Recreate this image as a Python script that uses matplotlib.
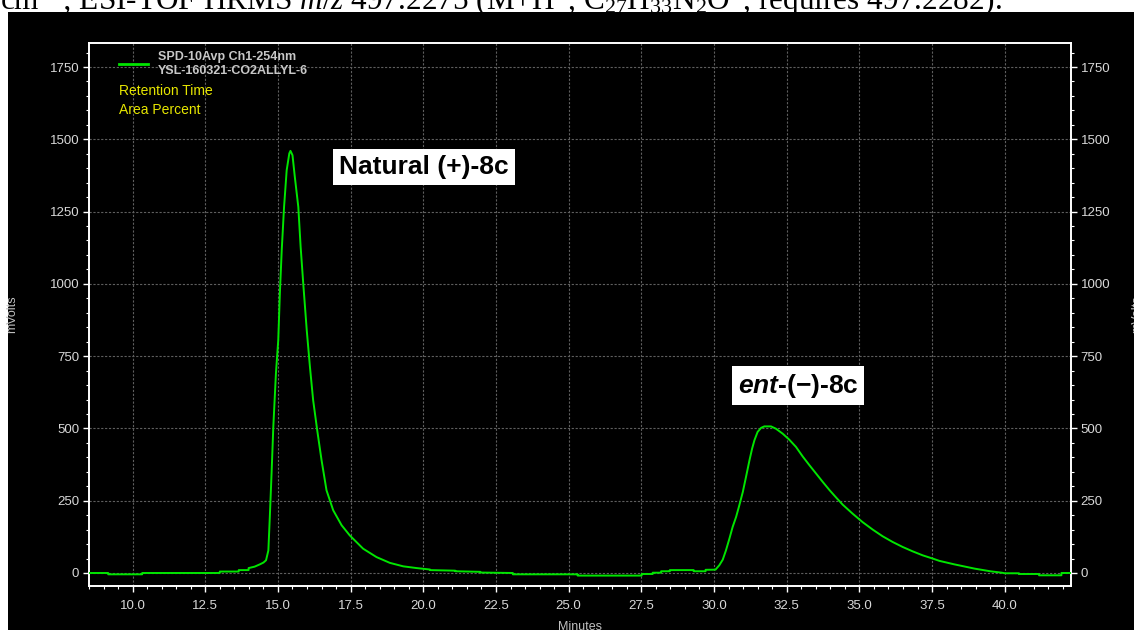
import matplotlib
matplotlib.use("Agg")
import matplotlib.pyplot as plt
from matplotlib.patches import Rectangle
from matplotlib.ticker import MultipleLocator, FormatStrFormatter

# ---- data ----
time_min = [8.5, 9.16, 9.16, 10.33, 10.33, 13.0, 13.0, 13.65, 13.65, 13.99, 13.99, 14.2,
            14.38, 14.50, 14.59, 14.67, 14.72, 14.78, 14.84, 14.93, 15.01, 15.07, 15.13,
            15.21, 15.30, 15.39, 15.43, 15.50, 15.58, 15.70, 15.78, 15.87, 15.99, 16.10,
            16.21, 16.35, 16.50, 16.67, 16.90, 17.19, 17.47, 17.93, 18.39, 18.85, 19.31,
            19.77, 20.23, 20.23, 21.1, 21.1, 21.96, 21.96, 23.08, 23.08, 25.31, 25.31,
            27.51, 27.51, 27.89, 27.89, 28.18, 28.18, 28.48, 28.48, 29.3, 29.3, 29.71,
            29.71, 30.05, 30.18, 30.30, 30.41, 30.53, 30.64, 30.76, 30.87, 30.99, 31.10,
            31.22, 31.31, 31.39, 31.50, 31.62, 31.73, 31.96, 32.13, 32.36, 32.59, 32.82,
            33.05, 33.28, 33.51, 33.74, 33.97, 34.20, 34.43, 34.77, 35.11, 35.46, 35.80,
            36.15, 36.49, 36.83, 37.18, 37.52, 37.75, 38.26, 38.97, 39.5, 39.9, 40.0,
            40.49, 40.49, 41.18, 41.18, 41.95, 41.95, 42.28]
signal_mv = [0, 0, -4.6, -4.6, 0, 0, 5, 5, 10, 10, 17, 22,
             30, 36, 44, 78, 194, 344, 505, 690, 805, 978, 1117,
             1266, 1393, 1451, 1460, 1445, 1370, 1266, 1128, 1001, 840, 713,
             598, 494, 390, 286, 217, 165, 130, 84, 55, 35, 23,
             17, 12, 10, 8, 6, 4, 1.5, 0, -4.6, -4.6, -9,
             -9, -3.5, -3.5, 1, 1, 6, 6, 10, 10, 6, 6,
             11, 11.5, 26.5, 46, 78, 119, 159, 194, 234, 280, 332,
             390, 430, 459, 488, 502, 507, 507, 499, 482, 461, 436,
             403, 373, 344, 315, 287, 261, 236, 205, 176, 150, 127,
             107, 90, 75, 61, 50, 42, 30, 15, 6, 1, -1,
             -1, -3.5, -3.5, -8, -8, 0, 0]

trace_label = "SPD-10Avp Ch1-254nm\nYSL-160321-CO2ALLYL-6"
legend_extra = ["Retention Time", "Area Percent"]
peak_labels = ["Natural (+)-8c", r"$\mathbfit{ent}$-(−)-8c"]
peak_label_pos = [(20.02, 1404), (32.89, 648)]
header = (r"cm$^{-1}$; ESI-TOF HRMS $m/z$ 497.2275 (M+H$^{+}$, "
          r"C$_{27}$H$_{33}$N$_{2}$O$^{+}$, requires 497.2282).")

plt.rcParams["font.family"] = ["Liberation Sans", "DejaVu Sans"]
plt.rcParams["mathtext.fontset"] = "custom"
plt.rcParams["mathtext.rm"] = "Liberation Serif"
plt.rcParams["mathtext.it"] = "Liberation Serif:italic"
plt.rcParams["mathtext.bf"] = "Liberation Serif:bold"
plt.rcParams["mathtext.bfit"] = "Liberation Sans:italic:bold"

W, H = 1134, 630
fig = plt.figure(figsize=(W / 100, H / 100), dpi=100, facecolor="white")

# black panel behind the chart
fig.add_artist(Rectangle((8 / W, 0), 1, 1 - 12 / H, transform=fig.transFigure,
                         facecolor="black", edgecolor="none", zorder=-2))
# cut-off line of text above the chart
fig.text(0 / W, 1 - 10 / H, header, fontsize=22.5, family="Liberation Serif",
         color="black", va="baseline", ha="left", zorder=-3)

left, right, top, bottom = 89, 1071, 43.3, 586
ax = fig.add_axes([left / W, 1 - bottom / H, (right - left) / W, (bottom - top) / H])
ax.set_facecolor("black")

green = "#00e600"
ax.plot(time_min, signal_mv, color=green, lw=1.4, label=trace_label, zorder=3)

ax.set_xlim(8.5, 42.28)
ax.set_ylim(-45, 1832)
ax.xaxis.set_major_locator(MultipleLocator(2.5))
ax.xaxis.set_minor_locator(MultipleLocator(0.5))
ax.xaxis.set_major_formatter(FormatStrFormatter("%.1f"))
ax.yaxis.set_major_locator(MultipleLocator(250))
ax.yaxis.set_minor_locator(MultipleLocator(50))

for s in ax.spines.values():
    s.set_color("white")
    s.set_linewidth(1.4)

ax.grid(True, which="major", color="#5e5e5e", linestyle=(0, (2, 1.5)), lw=0.8)
ax.set_axisbelow(True)

ax.tick_params(axis="both", which="major", direction="out", length=4.5, width=1,
               color="white", labelcolor="#d8d8d8", labelsize=9.5)
ax.tick_params(axis="both", which="minor", direction="out", length=2.2, width=0.8,
               color="white")
ax.tick_params(axis="x", which="major", pad=5.6)
ax.tick_params(axis="y", which="major", pad=2.5)
ax.tick_params(axis="y", which="both", left=True, right=True, labelleft=True,
               labelright=True)

# legend
leg = ax.legend(loc="upper left", bbox_to_anchor=(0.031, 0.986), frameon=False,
                borderpad=0, borderaxespad=0, handlelength=2.3, handletextpad=0.75,
                prop={"family": "Liberation Sans", "weight": "bold", "size": 9})
for t in leg.get_texts():
    t.set_color("#c8c8c8")
    t.set_linespacing(1.25)
for line in leg.get_lines():
    line.set_linewidth(2)

for txt, yy in zip(legend_extra, [0.9127, 0.8777]):
    ax.text(0.031, yy, txt, transform=ax.transAxes, color="#e6e600", fontsize=10,
            ha="left", va="center")

# peak annotations
for txt, (px, py) in zip(peak_labels, peak_label_pos):
    ax.text(px, py, txt, ha="center", va="center", fontsize=19, fontweight="bold",
            color="black", zorder=5,
            bbox=dict(boxstyle="square,pad=0.22", fc="white", ec="none"))

# axis titles
fig.text(12 / W, 1 - 314 / H, "mVolts", rotation=90, ha="center", va="center",
         fontsize=9, color="#c0c0c0")
fig.text(1137 / W, 1 - 314 / H, "mVolts", rotation=90, ha="center", va="center",
         fontsize=9, color="#c0c0c0")
fig.text((left + right) / 2 / W, 1 - 621 / H, "Minutes", ha="center", va="top",
         fontsize=9, color="#c0c0c0")

fig.savefig("out.png", dpi=100, facecolor="white")
